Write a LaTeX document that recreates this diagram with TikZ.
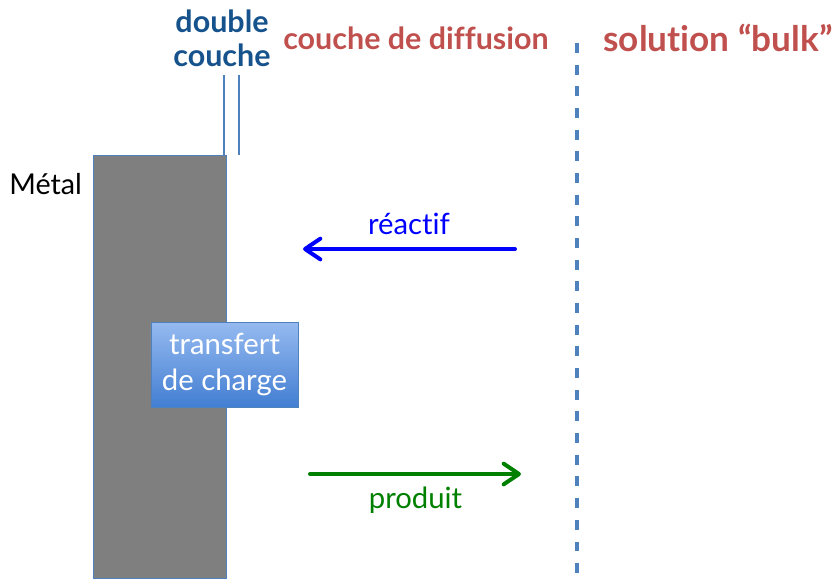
\documentclass[tikz,border=0pt]{standalone}
\usepackage{fontspec}
\setmainfont{Lato}[Ligatures={NoCommon}]
\usetikzlibrary{arrows.meta,positioning}

\definecolor{edgeblue}{RGB}{79,129,189}
\definecolor{titleblue}{RGB}{22,82,140}
\definecolor{titlered}{RGB}{192,80,77}
\definecolor{metalgray}{RGB}{127,127,127}
\definecolor{boxtop}{RGB}{150,186,240}
\definecolor{boxbottom}{RGB}{66,126,210}

\begin{document}
\begin{tikzpicture}[
      x=0.03cm, y=-0.03cm,
      metal/.style={draw=edgeblue, fill=metalgray, line width=0.6pt, inner sep=0pt,
        minimum width=3.99cm, minimum height=12.69cm, anchor=north west},
      layer/.style={draw=edgeblue, line width=2.3pt},
      boundary/.style={draw=edgeblue, line width=2.6pt, dash pattern=on 8.5pt off 10pt},
      transfer/.style={draw=edgeblue, line width=0.6pt, top color=boxtop, bottom color=boxbottom,
        text=white, align=center, minimum width=4.41cm, minimum height=2.55cm, inner sep=0pt,
        font=\fontsize{25}{30}\selectfont},
      heading/.style={font=\bfseries\fontsize{26}{29}\selectfont, align=center},
      flow/.style={line width=3.4pt, line cap=round,
        -{Straight Barb[length=4.6mm, width=6.2mm, line cap=round, line join=round]}},
      flowlabel/.style={font=\fontsize{25}{28}\selectfont}
    ]
    \useasboundingbox (0,0) rectangle (833,578);

    % electrode and the two planes of the double layer
    \node[metal] (metal) at (93,155) {};
    \node[anchor=east, font=\fontsize{24.5}{28}\selectfont] (metallabel) at (86,184) {Métal};
    \coordinate (innertop) at (224,75);
    \coordinate (outertop) at (239,75);
    \draw[layer] (innertop) -- (innertop |- metal.north);
    \draw[layer] (outertop) -- (outertop |- metal.north);

    % edge of the bulk solution
    \coordinate (bulktop) at (577,43);
    \coordinate (bulkbottom) at (577,578);
    \draw[boundary] (bulktop) -- (bulkbottom);

    % headings
    \node[heading, text=titleblue] (dl) at (222,38) {double\\couche};
    \node[heading, text=titlered] (diff) at (416,38) {couche de diffusion};
    \node[heading, text=titlered, font=\bfseries\fontsize{30}{34}\selectfont] (bulk) at (718,38) {solution “bulk”};

    \node[transfer] (ct) at (224.5,364.5) {transfert\\de charge};

    % species moving through the diffusion layer
    \coordinate (reacstart) at (515,249);
    \coordinate (reacend) at (303,249);
    \coordinate (prodstart) at (310,474);
    \coordinate (prodend) at (521,474);
    \draw[flow, blue] (reacstart) -- node[above=7pt, flowlabel] (reac) {réactif} (reacend);
    \draw[flow, green!50!black] (prodstart) -- node[below=6pt, flowlabel] (prod) {produit} (prodend);
\end{tikzpicture}
\end{document}
